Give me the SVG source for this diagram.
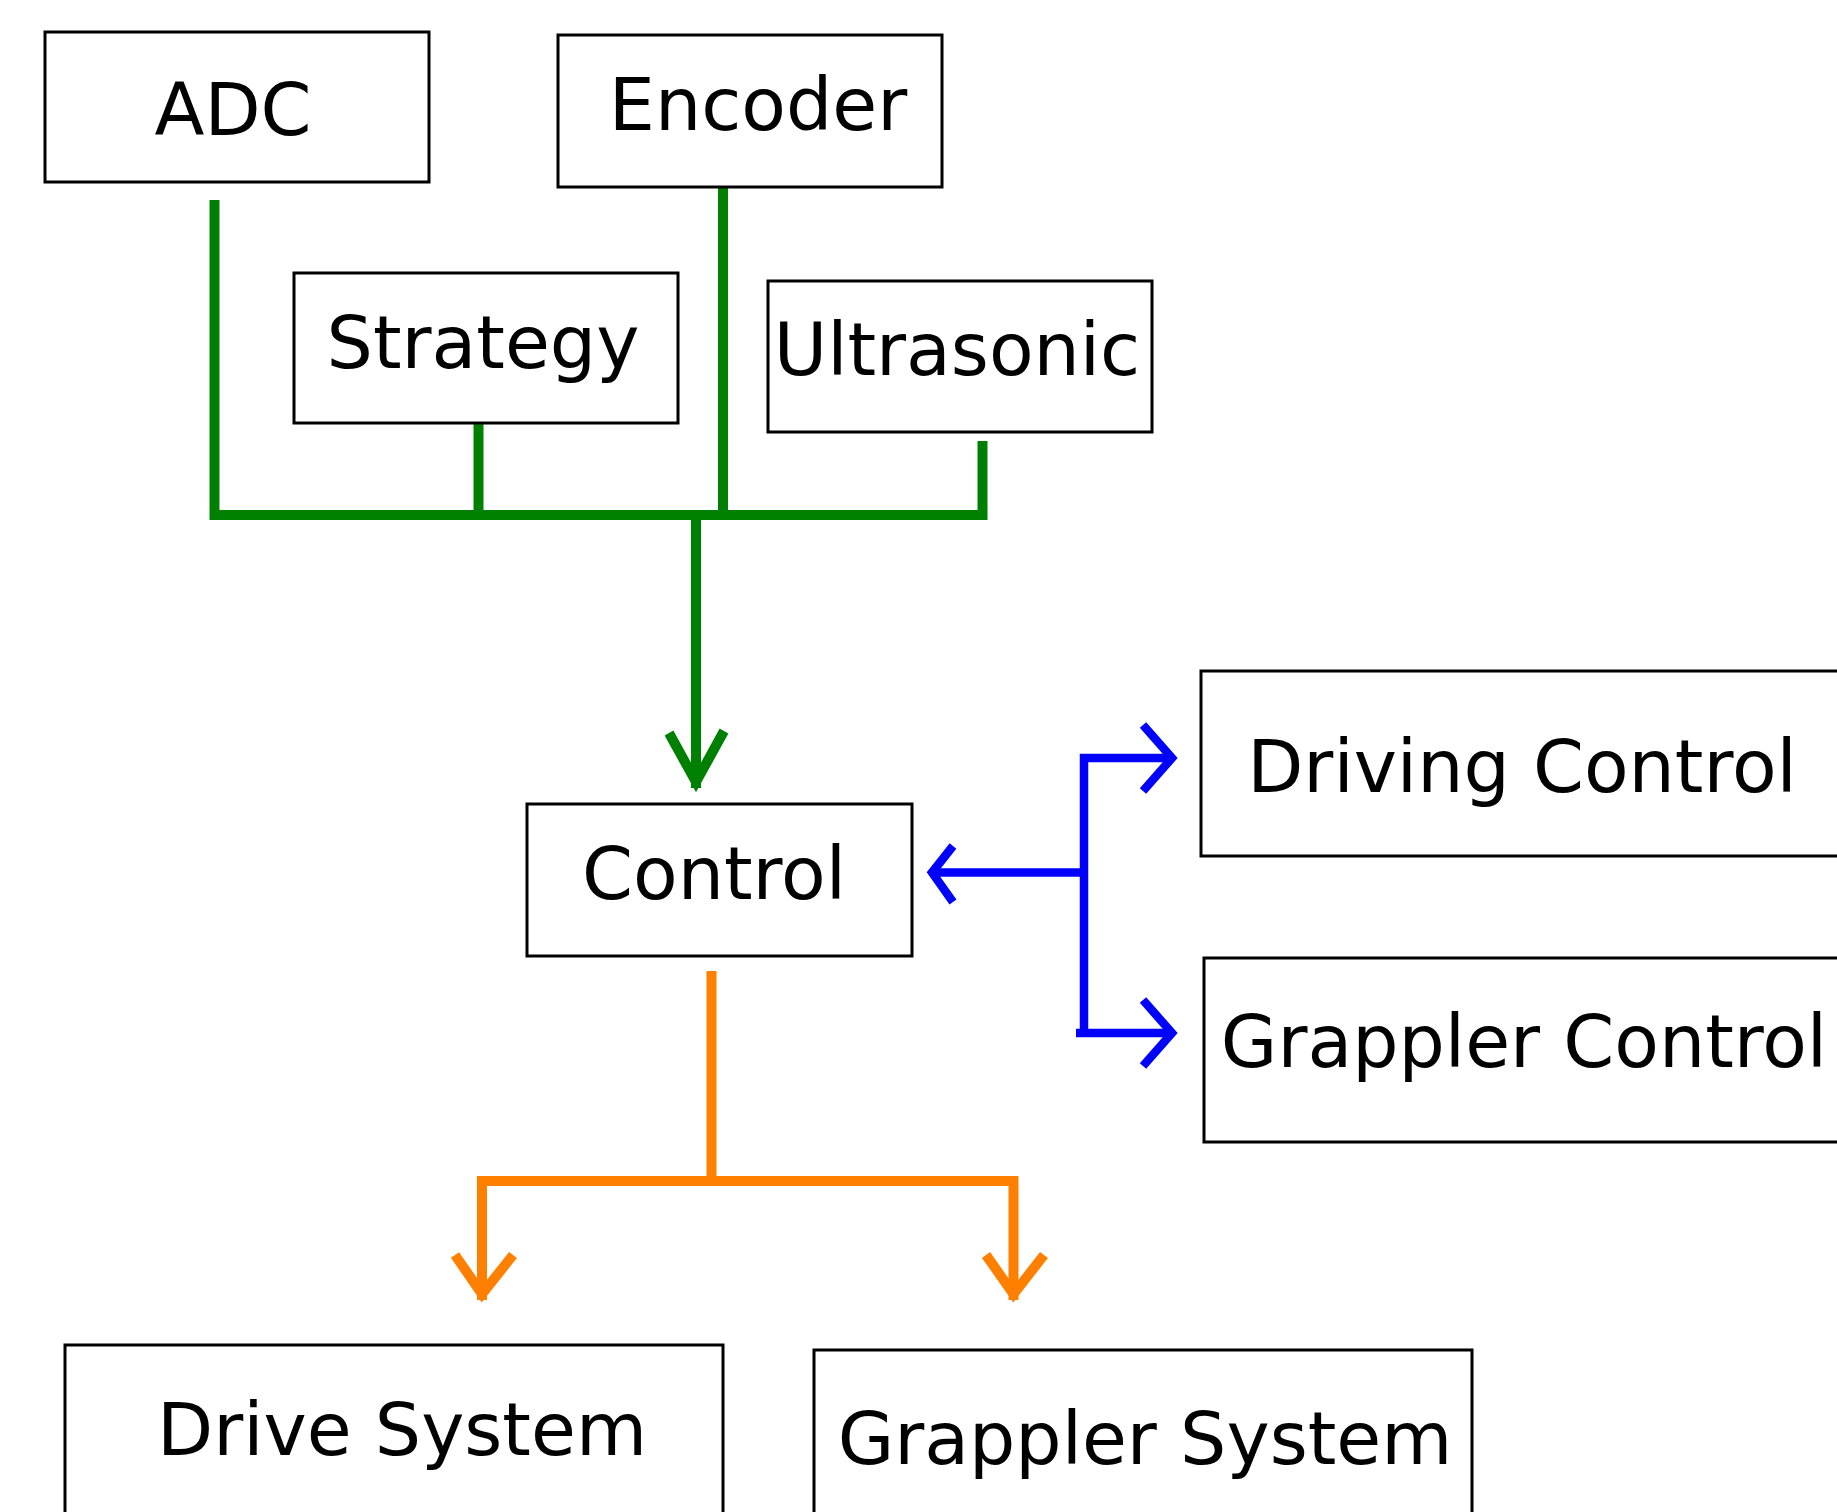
<svg xmlns="http://www.w3.org/2000/svg" width="1837" height="1512" viewBox="0 0 1837 1512">
<style>
.box{fill:#fff;stroke:#000;stroke-width:3}
.lbl{font-family:"DejaVu Sans","Liberation Sans",sans-serif;font-size:73px;fill:#000;text-anchor:middle}
.g{fill:none;stroke:#008000;stroke-width:10;stroke-linejoin:miter;stroke-linecap:butt}
.b{fill:none;stroke:#0000ff;stroke-width:8.5;stroke-linejoin:miter;stroke-linecap:butt}
.o{fill:none;stroke:#ff8000;stroke-width:10;stroke-linejoin:miter;stroke-linecap:butt}
</style>
<rect width="1837" height="1512" fill="#fff"/>
<g id="connectors">
  <path class="g" d="M214.5,200 V515 H982.5 V441"/>
  <path class="g" d="M478.5,423 V515"/>
  <path class="g" d="M723,187 V515"/>
  <path class="g" d="M696,515 V788"/>
  <polyline class="g" points="669,733 696,782 724,731"/>
  <path class="b" d="M1172,758 H1084 V1033"/>
  <path class="b" d="M1076,1033 H1172"/>
  <path class="b" d="M933,872.5 H1084"/>
  <polyline class="b" points="1143,725 1172,758 1143,791"/>
  <polyline class="b" points="1143,1000 1172,1033 1143,1066"/>
  <polyline class="b" points="953,846 932,872.5 953,902"/>
  <path class="o" d="M711.5,971 V1181"/>
  <path class="o" d="M482,1300 V1181 H1013.5 V1300"/>
  <polyline class="o" points="455,1255 482,1294 513,1255"/>
  <polyline class="o" points="986,1255 1013.5,1294 1044,1255"/>
</g>
<g id="adc"><rect class="box" x="45" y="32" width="384" height="150"/><text class="lbl" x="233" y="135">ADC</text></g>
<g id="encoder"><rect class="box" x="558" y="35" width="384" height="152"/><text class="lbl" x="758" y="130">Encoder</text></g>
<g id="strategy"><rect class="box" x="294" y="273" width="384" height="150"/><text class="lbl" x="483" y="368">Strategy</text></g>
<g id="ultrasonic"><rect class="box" x="768" y="281" width="384" height="151"/><text class="lbl" x="957" y="375">Ultrasonic</text></g>
<g id="control"><rect class="box" x="527" y="804" width="385" height="152"/><text class="lbl" x="714" y="899">Control</text></g>
<g id="driving-control"><rect class="box" x="1201" y="671" width="700" height="185"/><text class="lbl" x="1522" y="792">Driving Control</text></g>
<g id="grappler-control"><rect class="box" x="1204" y="958" width="700" height="184"/><text class="lbl" x="1524" y="1067">Grappler Control</text></g>
<g id="drive-system"><rect class="box" x="65" y="1345" width="658" height="200"/><text class="lbl" x="402" y="1455">Drive System</text></g>
<g id="grappler-system"><rect class="box" x="814" y="1350" width="658" height="200"/><text class="lbl" x="1145" y="1464">Grappler System</text></g>
</svg>
